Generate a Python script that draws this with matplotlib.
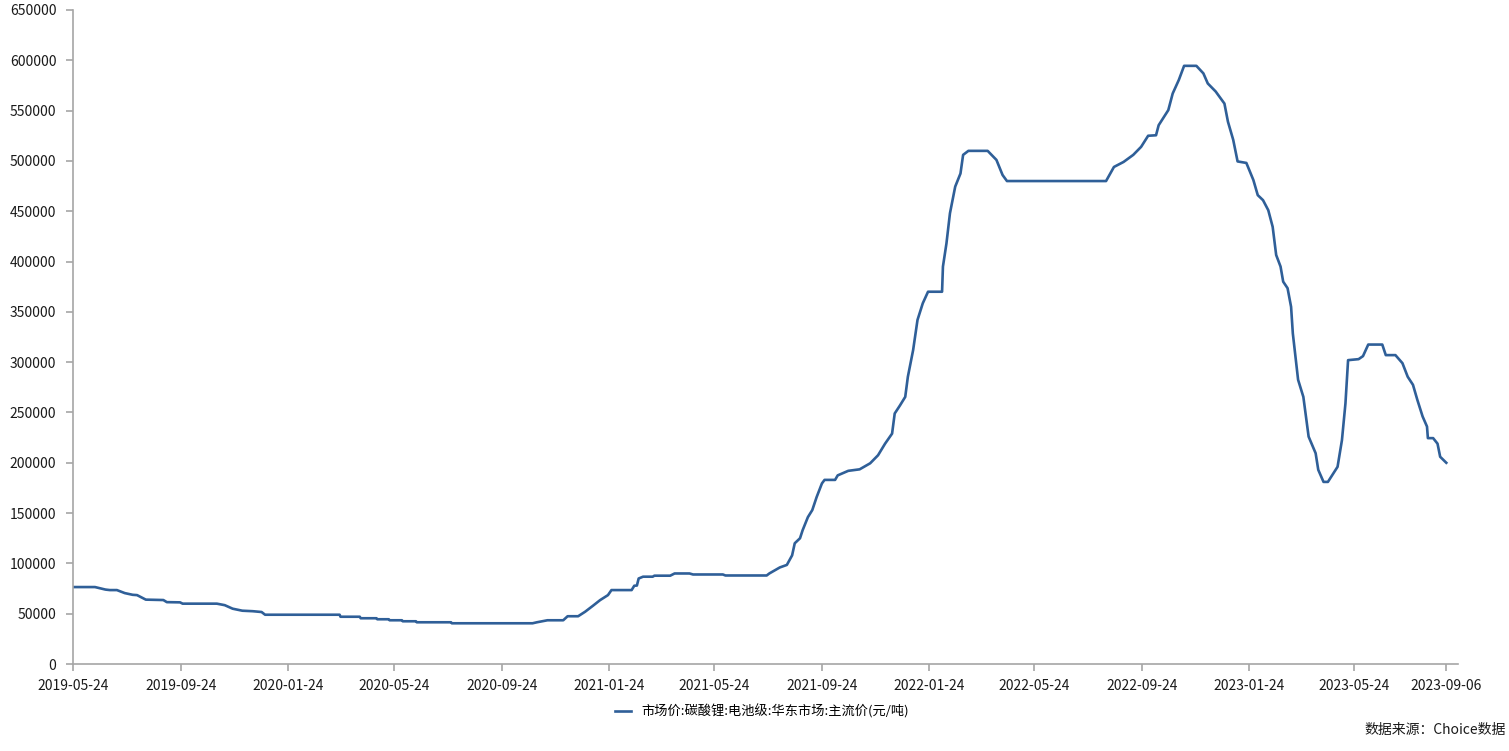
import pandas as pd
import numpy as np
import matplotlib
matplotlib.use("Agg")
import matplotlib.pyplot as plt
import matplotlib.dates as mdates

plt.rcParams['font.family']=['Noto Sans CJK SC','DejaVu Sans']

dates=["2019-05-24","2019-06-18","2019-06-30","2019-07-05","2019-07-13","2019-07-22","2019-07-31","2019-08-05",
"2019-08-15","2019-09-04","2019-09-08","2019-09-23","2019-09-26","2019-11-04","2019-11-13","2019-11-22",
"2019-12-03","2019-12-15","2019-12-25","2019-12-29","2020-03-23","2020-03-24","2020-04-15","2020-04-16",
"2020-05-04","2020-05-05","2020-05-18","2020-05-19","2020-06-02","2020-06-03","2020-06-18","2020-06-19",
"2020-07-28","2020-07-29","2020-10-29","2020-11-03","2020-11-15","2020-12-03","2020-12-08","2020-12-20",
"2020-12-28","2021-01-06","2021-01-14","2021-01-23","2021-01-27","2021-02-19","2021-02-22","2021-02-25",
"2021-02-27","2021-03-04","2021-03-15","2021-03-17","2021-04-04","2021-04-09","2021-04-26","2021-04-30",
"2021-06-03","2021-06-06","2021-07-23","2021-07-26","2021-08-07","2021-08-15","2021-08-21","2021-08-24",
"2021-08-30","2021-09-02","2021-09-08","2021-09-13","2021-09-18","2021-09-24","2021-09-27","2021-10-09",
"2021-10-12","2021-10-24","2021-11-06","2021-11-18","2021-11-27","2021-12-05","2021-12-13","2021-12-16",
"2021-12-22","2021-12-28","2021-12-31","2022-01-06","2022-01-11","2022-01-17","2022-01-23","2022-02-08",
"2022-02-09","2022-02-13","2022-02-17","2022-02-23","2022-03-01","2022-03-04","2022-03-10","2022-04-01",
"2022-04-11","2022-04-18","2022-04-23","2022-08-14","2022-08-23","2022-09-03","2022-09-14","2022-09-23",
"2022-10-01","2022-10-10","2022-10-13","2022-10-24","2022-10-29","2022-11-05","2022-11-11","2022-11-25",
"2022-12-03","2022-12-08","2022-12-17","2022-12-27","2022-12-31","2023-01-06","2023-01-11","2023-01-21",
"2023-01-29","2023-02-03","2023-02-09","2023-02-15","2023-02-20","2023-02-24","2023-03-01","2023-03-04",
"2023-03-09","2023-03-13","2023-03-15","2023-03-21","2023-03-27","2023-04-02","2023-04-10","2023-04-13",
"2023-04-19","2023-04-24","2023-05-05","2023-05-10","2023-05-14","2023-05-17","2023-05-29","2023-06-03",
"2023-06-09","2023-06-25","2023-06-29","2023-07-10","2023-07-18","2023-07-24","2023-07-30","2023-08-04",
"2023-08-10","2023-08-15","2023-08-16","2023-08-22","2023-08-27","2023-08-30","2023-09-06"]

prices=[76500,76500,74000,73500,73500,70500,68800,68500,
64000,63600,61500,61300,60000,60000,58500,55000,
53000,52500,51700,49000,49000,47000,47000,45500,
45500,44500,44500,43500,43500,42500,42500,41500,
41500,40500,40500,41500,43500,43500,47500,47500,
52000,58000,63500,68500,73500,73500,77800,78000,
85000,86800,86800,87800,87800,90000,90000,89000,
89000,88000,88000,90000,96000,98500,108000,120000,
125000,133000,146000,153000,166000,179500,183000,183000,
187500,192000,193500,199500,207500,219000,229000,249000,
257000,265500,285500,312000,342000,358500,370000,370000,
395000,418000,448000,474500,487500,506000,510000,510000,
501000,486000,480000,480000,494000,499000,506000,514000,
525000,525500,535500,550500,567000,580500,594500,594500,
587000,577000,569000,557000,539000,521000,499500,498000,
481000,466000,461000,451000,434500,406500,395000,380000,
373500,355000,328500,282500,265500,226000,209500,193000,
181000,181000,196000,222500,259000,302000,303000,306000,
317500,317500,307000,307000,299000,285500,277500,262500,
246000,236000,224500,224500,219000,206000,200000]

tick_dates=["2019-05-24","2019-09-24","2020-01-24","2020-05-24","2020-09-24","2021-01-24","2021-05-24",
"2021-09-24","2022-01-24","2022-05-24","2022-09-24","2023-01-24","2023-05-24","2023-09-06"]

series_name="市场价:碳酸锂:电池级:华东市场:主流价(元/吨)"
source_note="数据来源：Choice数据"

df=pd.DataFrame({'date':pd.to_datetime(dates),'price':prices})

fig=plt.figure(figsize=(15.09,7.51),dpi=100)
ax=fig.add_axes([0.0484,0.1158,0.9176,0.8709])
ax.plot(df['date'],df['price'],color='#2f5f98',lw=1.9,label=series_name)

ax.set_ylim(0,650000)
ax.set_yticks(np.arange(0,650001,50000))
ax.set_xlim(pd.Timestamp("2019-05-24"),pd.Timestamp("2023-09-19"))
ticks=pd.to_datetime(tick_dates)
ax.set_xticks(ticks)
ax.set_xticklabels(tick_dates)

for s in ['top','right']:
    ax.spines[s].set_visible(False)
for s in ['left','bottom']:
    ax.spines[s].set_color('#a6a6a6')
    ax.spines[s].set_linewidth(1.2)
ax.tick_params(axis='both',colors='#a6a6a6',labelcolor='#1a1a1a',labelsize=10,length=5,width=1.2)
ax.tick_params(axis='y',pad=7)
ax.tick_params(axis='x',pad=6)

leg=fig.legend(loc='center',bbox_to_anchor=(0.505,0.053),frameon=False,fontsize=9.5,
               handlelength=1.2,handletextpad=0.8)
fig.text(0.998,0.028,source_note,ha='right',va='center',fontsize=10,color='#1a1a1a')

fig.savefig("out.png",dpi=100)
